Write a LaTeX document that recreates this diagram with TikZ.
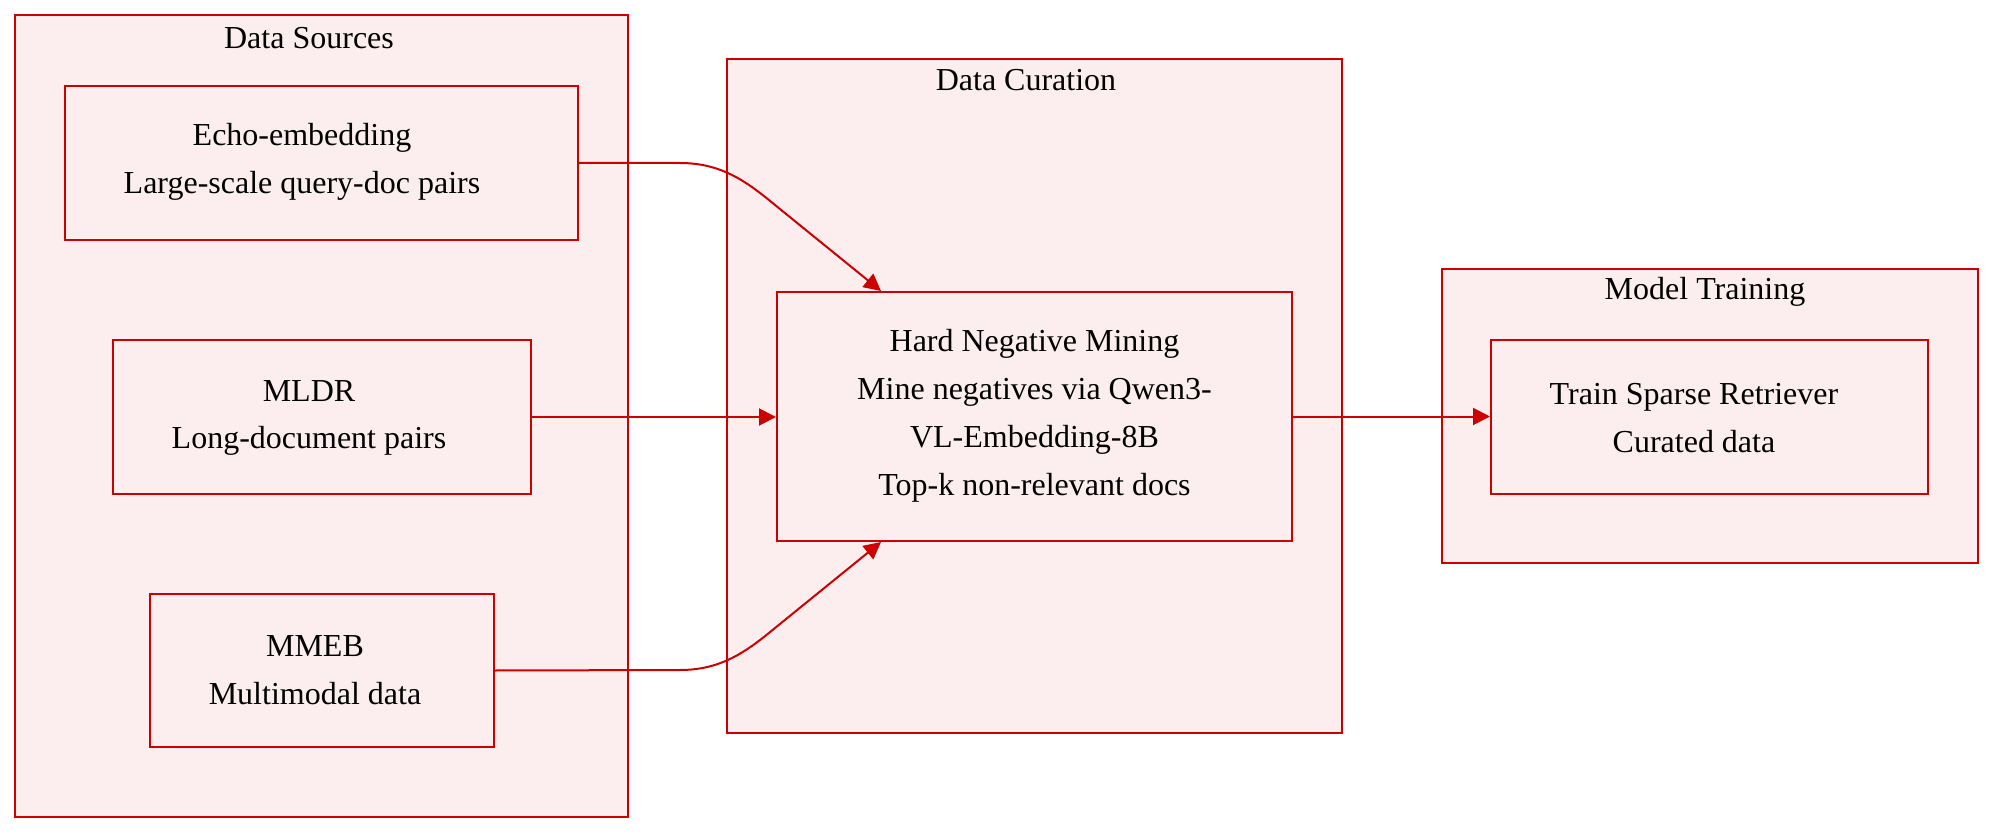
\documentclass[tikz,border=0pt]{standalone}
\usepackage{fontspec}
\setmainfont{Liberation Serif}
\usetikzlibrary{arrows.meta}
\definecolor{edgered}{HTML}{CC0000}
\definecolor{boxpink}{HTML}{FCEEEE}
\begin{document}
\begin{tikzpicture}[x=0.5pt,y=-0.5pt,
    cluster/.style={draw=edgered,fill=boxpink,line width=1pt,inner sep=0pt},
    stage/.style={draw=edgered,fill=boxpink,line width=1pt,inner sep=0pt},
    txt/.style={align=center,inner sep=0pt,font=\fontsize{16}{23.9}\selectfont},
    flow/.style={draw=edgered,line width=1pt,-{Triangle[length=8.5pt,width=8.5pt]}}]
    \useasboundingbox (0,0) rectangle (2010,840);

    % clusters
    \node[cluster,minimum width=306.5pt,minimum height=401pt] (sources)  at (321.5,416) {};
    \node[cluster,minimum width=307.5pt,minimum height=337pt] (curation) at (1034.5,396) {};
    \node[cluster,minimum width=268pt,minimum height=147pt]   (training) at (1710,416) {};
    \node[txt] (sourcesL)  at (309,38)  {Data Sources};
    \node[txt] (curationL) at (1026,80) {Data Curation};
    \node[txt] (trainingL) at (1705,292) {Model Training};

    % stages
    \node[stage,minimum width=256.5pt,minimum height=77pt]  (echo) at (321.5,163) {};
    \node[stage,minimum width=209pt,minimum height=77pt]    (mldr) at (322,417)   {};
    \node[stage,minimum width=172pt,minimum height=76.5pt]  (mmeb) at (322,670.5) {};
    \node[stage,minimum width=257.5pt,minimum height=124.5pt] (hnm) at (1034.5,416.5) {};
    \node[stage,minimum width=218.5pt,minimum height=77pt]  (train) at (1709.5,417) {};

    \node[txt] (echoT)  at (302,162)  {Echo-embedding\\Large-scale query-doc pairs};
    \node[txt] (mldrT)  at (309,418)  {MLDR\\Long-document pairs};
    \node[txt] (mmebT)  at (315,670)  {MMEB\\Multimodal data};
    \node[txt] (hnmT)   at (1034.5,416) {Hard Negative Mining\\Mine negatives via Qwen3-\\VL-Embedding-8B\\Top-k non-relevant docs};
    \node[txt] (trainT) at (1694,418) {Train Sparse Retriever\\Curated data};

    % arrows
    \draw[flow] (echo.east) -- (680,163) .. controls (720,163) and (745,180) .. (775,205)
        -- ([xshift=52.5pt]hnm.north west);
    \draw[flow] (mldr.east) -- (mldr.east -| hnm.west);
    \draw[flow] (mmeb.east) -- (680,670) .. controls (720,670) and (745,653) .. (775,628)
        -- ([xshift=52.5pt]hnm.south west);
    \draw[flow] (hnm.east) -- (hnm.east -| train.west);
\end{tikzpicture}
\end{document}
